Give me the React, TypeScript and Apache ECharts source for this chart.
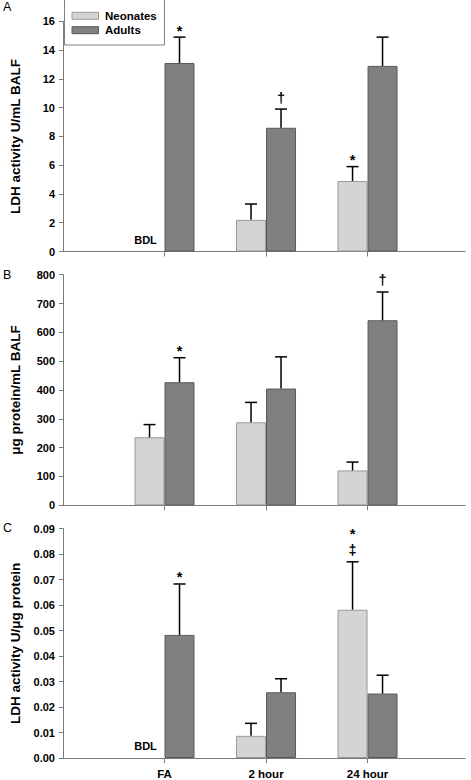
import React, { useEffect, useRef } from "react";
import * as echarts from "echarts";

// ---------- data ----------
const categories = ["FA", "2 hour", "24 hour"];
const seriesNames = ["Neonates", "Adults"];

// Panel A: LDH activity U/mL BALF
const neonatesA: (number | null)[] = [null, 2.2, 4.9];
const neonatesSemA: (number | null)[] = [null, 1.1, 1.0];
const adultsA = [13.1, 8.6, 12.9];
const adultsSemA = [1.8, 1.3, 2.0];
const neonatesMarksA = ["BDL", "", "*"];
const adultsMarksA = ["*", "†", ""];

// Panel B: µg protein/mL BALF
const neonatesB: (number | null)[] = [236, 288, 121];
const neonatesSemB: (number | null)[] = [44, 69, 29];
const adultsB = [427, 405, 642];
const adultsSemB = [85, 110, 98];
const neonatesMarksB = ["", "", ""];
const adultsMarksB = ["*", "", "†"];

// Panel C: LDH activity U/µg protein (marks listed top to bottom)
const neonatesC: (number | null)[] = [null, 0.0087, 0.0582];
const neonatesSemC: (number | null)[] = [null, 0.0049, 0.0188];
const adultsC = [0.0483, 0.0258, 0.0253];
const adultsSemC = [0.02, 0.0053, 0.0072];
const neonatesMarksC = ["BDL", "", "*‡"];
const adultsMarksC = ["*", "", ""];

// axes
const yMaxA = 16, yStepA = 2;
const yMaxB = 800, yStepB = 100;
const yMaxC = 0.09, yStepC = 0.01;
const yNames = ["LDH activity U/mL BALF", "\u03bcg protein/mL BALF", "LDH activity U/\u03bcg protein"];
const panelLetters = ["A", "B", "C"];

// ---------- styles ----------
const FONT = "'Liberation Sans', Arial, Helvetica, sans-serif";
const BAR_W = 30;
const NEO_FILL = "#d4d4d4";
const NEO_BORDER = "#9a9a9a";
const ADU_FILL = "#808080";
const ADU_BORDER = "#5a5a5a";
const AXIS_COLOR = "#7a7a7a";
const MARK_SIZE = 14.5;

const grids = [
  { left: 58, right: 6, top: 21.3, height: 230.2 },
  { left: 58, right: 6, top: 274.7, height: 230.6 },
  { left: 58, right: 6, top: 528.7, height: 230 },
];
const letterCenters = [7, 275, 528.5];

function barData(values: (number | null)[]) {
  const out: number[][] = [];
  values.forEach((v, i) => {
    if (v != null) out.push([i + 1, v]);
  });
  return out;
}

function errorSeries(
  g: number,
  means: (number | null)[],
  sems: (number | null)[],
  marks: string[],
  side: number
) {
  const rows = categories.map((c, i) => ({
    x: i + 1,
    mean: means[i],
    sem: sems[i],
    mark: marks[i],
  }));
  return {
    type: "custom",
    name: "err" + g + side,
    xAxisIndex: g,
    yAxisIndex: g,
    z: 10,
    silent: true,
    clip: false,
    data: rows.map((r) => [r.x, r.mean == null ? 0 : (r.mean as number) + (r.sem as number)]),
    renderItem: (params: any, api: any) => {
      const r = rows[params.dataIndex];
      const p0 = api.coord([r.x, 0]);
      const cx = p0[0] + (side * BAR_W) / 2;
      const children: any[] = [];
      if (r.mean == null) {
        if (r.mark === "BDL") {
          children.push({
            type: "text",
            style: {
              x: cx - 4,
              y: p0[1] - 12,
              text: "BDL",
              align: "center",
              verticalAlign: "middle",
              fill: "#000",
              font: `bold 11px ${FONT}`,
            },
          });
        }
        return { type: "group", children };
      }
      const yb = api.coord([r.x, r.mean])[1];
      const yt = api.coord([r.x, (r.mean as number) + (r.sem as number)])[1];
      const ls = { stroke: "#000", lineWidth: 1.5 };
      children.push({ type: "line", shape: { x1: cx, y1: yb, x2: cx, y2: yt }, style: ls });
      children.push({ type: "line", shape: { x1: cx - 6, y1: yt, x2: cx + 6, y2: yt }, style: ls });
      const syms = Array.from(r.mark || "").reverse(); // bottom to top
      let mid = yt;
      syms.forEach((s, k) => {
        const star = s === "*";
        mid = k === 0 ? yt - (star ? 6.5 : 11.5) : mid - 16.5;
        children.push({
          type: "text",
          style: {
            x: cx,
            y: mid,
            text: s,
            align: "center",
            verticalAlign: "middle",
            fill: "#000",
            font: `bold ${MARK_SIZE}px ${FONT}`,
          },
        });
      });
      return { type: "group", children };
    },
  };
}

export default function App() {
  const ref = useRef<HTMLDivElement>(null);
  useEffect(() => {
    document.body.style.margin = "0";
    const chart = echarts.init(ref.current!, null, { renderer: "svg" });
    const yMaxes = [yMaxA, yMaxB, yMaxC];
    const ySteps = [yStepA, yStepB, yStepC];
    const neo = [neonatesA, neonatesB, neonatesC];
    const neoSem = [neonatesSemA, neonatesSemB, neonatesSemC];
    const adu = [adultsA, adultsB, adultsC];
    const aduSem = [adultsSemA, adultsSemB, adultsSemC];
    const neoMarks = [neonatesMarksA, neonatesMarksB, neonatesMarksC];
    const aduMarks = [adultsMarksA, adultsMarksB, adultsMarksC];
    const catValues = categories.map((_, i) => i + 1);

    const series: any[] = [];
    [0, 1, 2].forEach((g) => {
      series.push({
        type: "bar",
        name: seriesNames[0],
        xAxisIndex: g,
        yAxisIndex: g,
        barWidth: BAR_W,
        barGap: "0%",
        data: barData(neo[g]),
        itemStyle: { color: NEO_FILL, borderColor: NEO_BORDER, borderWidth: 1 },
      });
      series.push({
        type: "bar",
        name: seriesNames[1],
        xAxisIndex: g,
        yAxisIndex: g,
        barWidth: BAR_W,
        barGap: "0%",
        data: barData(adu[g]),
        itemStyle: { color: ADU_FILL, borderColor: ADU_BORDER, borderWidth: 1 },
      });
      series.push(errorSeries(g, neo[g], neoSem[g], neoMarks[g], -1));
      series.push(errorSeries(g, adu[g], aduSem[g], aduMarks[g], 1));
    });

    const legendGraphic = {
      type: "group",
      left: 64,
      top: -1,
      children: [
        {
          type: "rect",
          shape: { x: 0.5, y: 0.5, width: 100, height: 45.5 },
          style: { fill: "#fff", stroke: "#808080", lineWidth: 1 },
        },
        {
          type: "rect",
          shape: { x: 8, y: 13.3, width: 26.5, height: 7 },
          style: { fill: NEO_FILL, stroke: NEO_BORDER, lineWidth: 1 },
        },
        {
          type: "rect",
          shape: { x: 8, y: 27.7, width: 26.5, height: 7 },
          style: { fill: ADU_FILL, stroke: ADU_BORDER, lineWidth: 1 },
        },
        {
          type: "text",
          style: {
            x: 41,
            y: 16.8,
            text: seriesNames[0],
            verticalAlign: "middle",
            fill: "#000",
            font: `bold 11.5px ${FONT}`,
          },
        },
        {
          type: "text",
          style: {
            x: 41,
            y: 31.3,
            text: seriesNames[1],
            verticalAlign: "middle",
            fill: "#000",
            font: `bold 11.5px ${FONT}`,
          },
        },
      ],
    };

    chart.setOption({
      animation: false,
      backgroundColor: "#fff",
      textStyle: { fontFamily: FONT },
      grid: grids,
      xAxis: [0, 1, 2].map((g) => ({
        type: "value",
        gridIndex: g,
        min: 0,
        max: 3.96,
        splitLine: { show: false },
        axisLine: { show: true, lineStyle: { color: AXIS_COLOR, width: 1 } },
        axisTick: {
          show: true,
          length: 5,
          customValues: catValues,
          lineStyle: { color: AXIS_COLOR },
        },
        axisLabel: {
          show: g === 2,
          customValues: catValues,
          margin: 10,
          formatter: (v: number) => categories[Math.round(v) - 1] ?? "",
          fontWeight: "bold",
          fontSize: 11.5,
          color: "#000",
          fontFamily: FONT,
        },
      })),
      yAxis: [0, 1, 2].map((g) => ({
        type: "value",
        gridIndex: g,
        min: 0,
        max: yMaxes[g],
        interval: ySteps[g],
        name: yNames[g],
        nameLocation: "middle",
        nameGap: 41,
        nameTextStyle: { fontWeight: "bold", fontSize: 13.5, color: "#000", fontFamily: FONT },
        splitLine: { show: false },
        axisLine: { show: true, lineStyle: { color: AXIS_COLOR, width: 1 } },
        axisTick: { show: true, length: 4, lineStyle: { color: AXIS_COLOR } },
        axisLabel: {
          margin: 8,
          fontWeight: "bold",
          fontSize: 11,
          color: "#000",
          fontFamily: FONT,
          formatter: (v: number) => (g === 2 ? v.toFixed(2) : String(Math.round(v))),
        },
      })),
      graphic: [
        ...letterCenters.map((cy, g) => ({
          type: "text",
          left: 3,
          top: cy - 7,
          style: { text: panelLetters[g], font: `12.5px ${FONT}`, fill: "#000" },
        })),
        legendGraphic,
      ],
      series,
    });
    return () => chart.dispose();
  }, []);
  return (
    <div
      ref={ref}
      style={{ position: "absolute", left: 0, top: 0, width: 471, height: 780 }}
    />
  );
}
